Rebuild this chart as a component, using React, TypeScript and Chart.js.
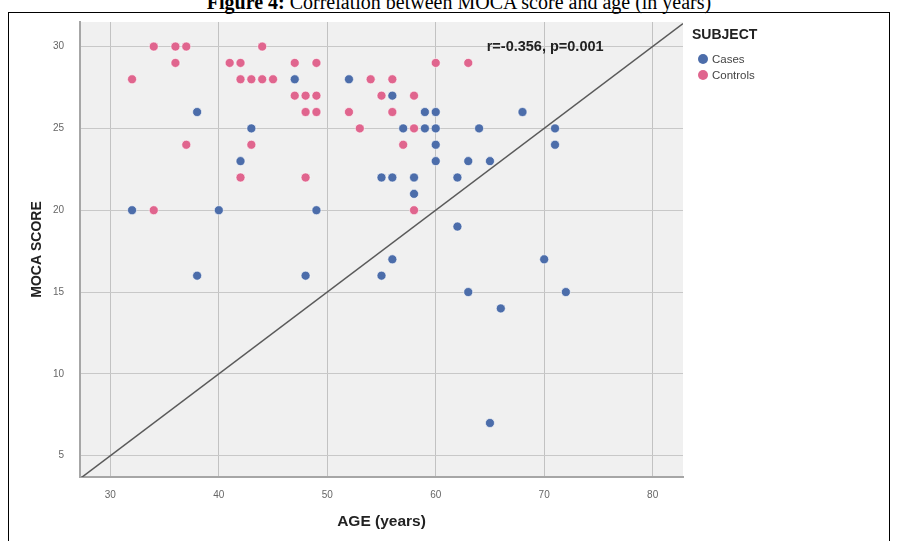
import React, { useEffect, useRef } from "react";
import { Chart, registerables } from "chart.js";

Chart.register(...registerables);

// ---- data ----
const seriesNames = ["Cases", "Controls"];
const casesAge = [32, 38, 38, 40, 42, 43, 47, 48, 49, 52, 55, 55, 56, 56, 56, 57, 58, 58, 59, 59, 60, 60, 60, 60, 62, 62, 63, 63, 64, 65, 65, 66, 68, 70, 71, 71, 72];
const casesMoca = [20, 26, 16, 20, 23, 25, 28, 16, 20, 28, 22, 16, 27, 22, 17, 25, 22, 21, 26, 25, 26, 25, 24, 23, 22, 19, 23, 15, 25, 23, 7, 14, 26, 17, 25, 24, 15];
const controlsAge = [32, 34, 36, 37, 44, 36, 41, 42, 47, 49, 60, 63, 42, 43, 44, 45, 54, 56, 47, 48, 49, 55, 58, 48, 49, 52, 56, 53, 58, 37, 43, 57, 42, 48, 34, 58];
const controlsMoca = [28, 30, 30, 30, 30, 29, 29, 29, 29, 29, 29, 29, 28, 28, 28, 28, 28, 28, 27, 27, 27, 27, 27, 26, 26, 26, 26, 25, 25, 24, 24, 24, 22, 22, 20, 20];
const refLineAge = [27.2, 82.8];
const refLineMoca = [3.6, 31.4];
const xTicks = [30, 40, 50, 60, 70, 80];
const yTicks = [5, 10, 15, 20, 25, 30];
const annotationText = "r=-0.356, p=0.001";
const legendTitle = "SUBJECT";
const titleBold = "Figure 4:";
const titleRest = " Correlation between MOCA score and age (in years)";

const COLORS = ["#4c6daa", "#e0658e"];

const toPts = (xs: number[], ys: number[]) => xs.map((x, i) => ({ x, y: ys[i] }));

export default function App() {
  const ref = useRef<HTMLCanvasElement | null>(null);

  useEffect(() => {
    if (!ref.current) return;

    const bgPlugin = {
      id: "plotBg",
      beforeDraw(chart: any) {
        const { ctx, chartArea: a } = chart;
        ctx.save();
        ctx.fillStyle = "#f0f0f0";
        ctx.fillRect(a.left, a.top, a.right - a.left, a.bottom - a.top);
        ctx.restore();
      },
    };

    const overlayPlugin = {
      id: "overlay",
      afterDraw(chart: any) {
        const { ctx } = chart;
        const xs = chart.scales.x;
        const ys = chart.scales.y;
        ctx.save();
        // annotation
        ctx.fillStyle = "#222";
        ctx.font = "bold 14.5px 'Liberation Sans', Arial, sans-serif";
        ctx.textAlign = "left";
        ctx.textBaseline = "middle";
        ctx.fillText(annotationText, xs.getPixelForValue(64.7), ys.getPixelForValue(30.0));
        // legend
        const lx = chart.chartArea.right + 9;
        ctx.font = "bold 14px 'Liberation Sans', Arial, sans-serif";
        ctx.fillStyle = "#222";
        ctx.fillText(legendTitle, lx, 35);
        chart.data.datasets.forEach((ds: any, i: number) => {
          if (!ds.isSeries) return;
          const cy = 59 + i * 16;
          ctx.beginPath();
          ctx.arc(lx + 11, cy, 5, 0, Math.PI * 2);
          ctx.fillStyle = ds.backgroundColor;
          ctx.fill();
          ctx.fillStyle = "#444";
          ctx.font = "11.5px 'Liberation Sans', Arial, sans-serif";
          ctx.fillText(ds.label, lx + 20, cy + 1);
        });
        ctx.restore();
      },
    };

    const chart = new Chart(ref.current, {
      type: "scatter",
      data: {
        datasets: [
          ...seriesNames.map((name, i) => ({
            label: name,
            isSeries: true,
            data: i === 0 ? toPts(casesAge, casesMoca) : toPts(controlsAge, controlsMoca),
            backgroundColor: COLORS[i],
            borderColor: "rgba(255,255,255,0.6)",
            borderWidth: 1,
            pointRadius: 4.5,
            order: i === 0 ? 1 : 2,
          })),
          {
            type: "line",
            label: "ref",
            isSeries: false,
            data: toPts(refLineAge, refLineMoca),
            borderColor: "#5a5a5a",
            borderWidth: 1.5,
            pointRadius: 0,
            fill: false,
            order: 3,
          } as any,
        ],
      },
      plugins: [bgPlugin, overlayPlugin],
      options: {
        animation: false,
        responsive: false,
        layout: { padding: { top: 17, right: 214, left: 0, bottom: 0 } },
        plugins: { legend: { display: false }, tooltip: { enabled: false } },
        scales: {
          x: {
            type: "linear",
            min: 27.2,
            max: 82.8,
            afterFit: (s: any) => {
              s.height = 64;
            },
            afterBuildTicks: (s: any) => {
              s.ticks = xTicks.map((v) => ({ value: v }));
            },
            grid: { color: "#c2c2c2", lineWidth: 1, drawTicks: false },
            border: { color: "#a6a6a6", width: 2 },
            ticks: {
              padding: 12,
              color: "#666",
              font: { size: 10, family: "'Liberation Sans', Arial, sans-serif" },
            },
            title: {
              display: true,
              text: "AGE (years)",
              color: "#222",
              font: { size: 15.5, weight: "bold", family: "'Liberation Sans', Arial, sans-serif" },
              padding: { top: 0, bottom: 10 },
            },
          },
          y: {
            type: "linear",
            min: 3.7,
            max: 31.5,
            afterFit: (s: any) => {
              s.width = 80;
            },
            afterBuildTicks: (s: any) => {
              s.ticks = yTicks.map((v) => ({ value: v }));
            },
            grid: { color: "#c8c8c8", lineWidth: 1, drawTicks: false },
            border: { color: "#a6a6a6", width: 2 },
            ticks: {
              padding: 16,
              color: "#666",
              font: { size: 10, family: "'Liberation Sans', Arial, sans-serif" },
            },
            title: {
              display: true,
              text: "MOCA SCORE",
              color: "#222",
              font: { size: 14, weight: "bold", family: "'Liberation Sans', Arial, sans-serif" },
              padding: { top: 29, bottom: 0 },
            },
          },
        },
      } as any,
    });
    return () => chart.destroy();
  }, []);

  return (
    <div style={{ position: "absolute", left: 0, top: 0, width: 897, height: 541, overflow: "hidden", background: "#fff" }}>
      <div
        style={{
          position: "absolute",
          left: 8,
          top: 12,
          width: 882,
          height: 560,
          border: "1px solid #000",
          boxSizing: "border-box",
        }}
      />
      <div
        style={{
          position: "absolute",
          top: -8,
          left: 0,
          width: 918,
          textAlign: "center",
          fontFamily: "'Liberation Serif', 'Times New Roman', serif",
          fontSize: 20,
          lineHeight: "20px",
          whiteSpace: "nowrap",
          color: "#000",
        }}
      >
        <b>{titleBold}</b>
        {titleRest}
      </div>
      <canvas ref={ref} width={897} height={541} style={{ position: "absolute", left: 0, top: 0 }} />
    </div>
  );
}
